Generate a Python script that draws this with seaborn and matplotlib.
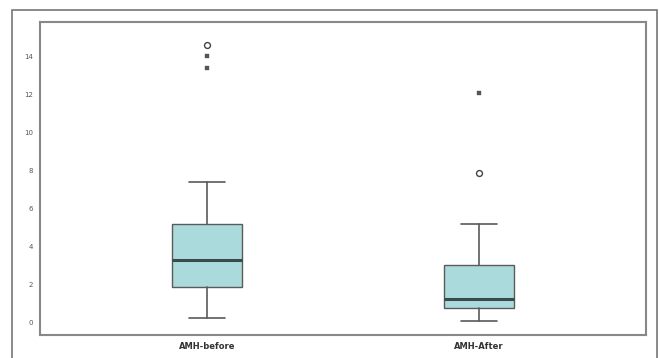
import numpy as np
import matplotlib
matplotlib.use("Agg")
import matplotlib.pyplot as plt
import seaborn as sns
from matplotlib.patches import Rectangle

# Box statistics
groups = ["AMH-before", "AMH-After"]
whislo = [0.2, 0.05]
q1 = [1.85, 0.75]
med = [3.25, 1.2]
q3 = [5.15, 3.0]
whishi = [7.4, 5.15]

# outliers: circles (mild) and stars (extreme)
circle_x = [0, 1]
circle_y = [14.6, 7.85]
star_x = [0, 0, 1]
star_y = [14.0, 13.4, 12.05]

yticks = [0, 2, 4, 6, 8, 10, 12, 14]

sns.set_style("white")

fig = plt.figure(figsize=(6.59, 3.58), dpi=100)
ax = fig.add_axes([0.0607, 0.0642, 0.9196, 0.874])

stats = []
for i, g in enumerate(groups):
    stats.append(dict(label=g, whislo=whislo[i], q1=q1[i], med=med[i],
                      q3=q3[i], whishi=whishi[i], fliers=[]))

ax.bxp(stats, positions=[0, 1], widths=0.26, patch_artist=True, showfliers=False,
       boxprops=dict(facecolor="#abdadd", edgecolor="#5a5a5a", linewidth=1),
       medianprops=dict(color="#3a4a4a", linewidth=2.2),
       whiskerprops=dict(color="#5a5a5a", linewidth=1.2),
       capprops=dict(color="#5a5a5a", linewidth=1.2),
       capwidths=0.13)

sns.scatterplot(x=circle_x, y=circle_y, ax=ax, marker="o", s=18,
                facecolor="white", edgecolor="#444444", linewidth=1, zorder=5)
sns.scatterplot(x=star_x, y=star_y, ax=ax, marker="s", s=12,
                color="#555555", edgecolor="#555555", zorder=5)

ax.set_xlim(-0.614, 1.614)
ax.set_ylim(-0.68, 15.79)
ax.set_yticks(yticks)
ax.set_yticklabels([str(t) for t in yticks], fontsize=5, color="#555555")
ax.set_xticks([0, 1])
ax.set_xticklabels(groups, fontsize=6, fontweight="bold", color="#333333")
ax.tick_params(axis="both", length=3, width=0.8, color="#666666", pad=2)
for s in ax.spines.values():
    s.set_color("#888888")
    s.set_linewidth(1.5)

# outer frame of the figure
fig.patches.append(Rectangle((12 / 659, -0.05), (657 - 12) / 659, 1 - 10 / 358 + 0.05,
                             transform=fig.transFigure, fill=False,
                             edgecolor="#777777", linewidth=1.2))

fig.savefig("out.png", dpi=100)
